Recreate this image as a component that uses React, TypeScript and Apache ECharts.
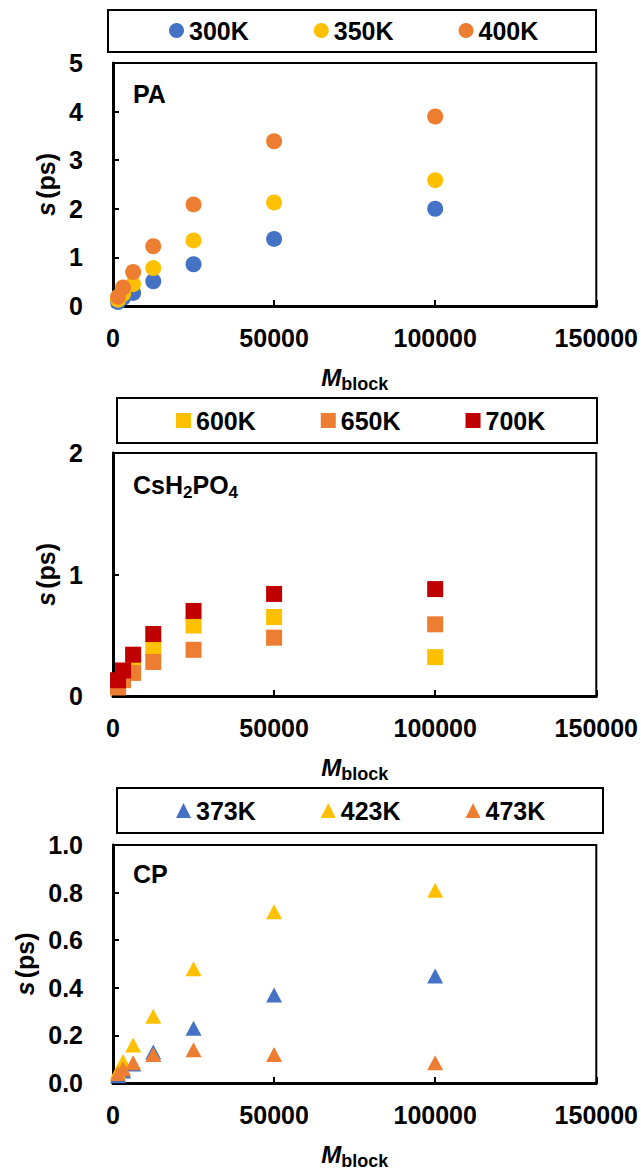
import React, { useEffect, useRef } from "react";
import * as echarts from "echarts";

// Block sizes (x values) shared by all panels
const mBlock = [1563, 3125, 6250, 12500, 25000, 50000, 100000];

// Panel 1: PA
const paNames = ["300K", "350K", "400K"];
const pa300 = [0.08, 0.17, 0.27, 0.51, 0.86, 1.38, 2.0];
const pa350 = [0.13, 0.25, 0.45, 0.78, 1.35, 2.13, 2.59];
const pa400 = [0.19, 0.38, 0.7, 1.23, 2.09, 3.39, 3.9];

// Panel 2: CsH2PO4
const cspNames = ["600K", "650K", "700K"];
const csp600 = [0.1, 0.17, 0.3, 0.4, 0.58, 0.65, 0.32];
const csp650 = [0.07, 0.13, 0.19, 0.28, 0.38, 0.48, 0.59];
const csp700 = [0.13, 0.21, 0.34, 0.51, 0.7, 0.84, 0.88];

// Panel 3: CP
const cpNames = ["373K", "423K", "473K"];
const cp373 = [0.03, 0.05, 0.08, 0.13, 0.23, 0.37, 0.45];
const cp423 = [0.05, 0.09, 0.16, 0.28, 0.48, 0.72, 0.81];
const cp473 = [0.04, 0.06, 0.085, 0.12, 0.14, 0.12, 0.085];

const yMax = [5, 2, 1];
const yInterval = [1, 1, 0.2];
const panelTitles = ["PA", "CsH2PO4", "CP"];

const BLUE = "#4472C4";
const YELLOW = "#FFC000";
const ORANGE = "#ED7D31";
const RED = "#C00000";

const FONT = "Liberation Sans, Arial, sans-serif";

export default function App() {
  const ref = useRef<HTMLDivElement>(null);

  useEffect(() => {
    if (!ref.current) return;
    const chart = echarts.init(ref.current, null, { renderer: "svg" });

    const gridTops = [63, 453, 845];
    const gridHeights = [243, 243, 241];

    const labelStyle = {
      color: "#000",
      fontFamily: FONT,
      fontWeight: "bold" as const,
      fontSize: 25,
    };

    const grids = gridTops.map((t, i) => ({
      left: 113,
      width: 484,
      top: t,
      height: gridHeights[i],
      show: true,
      borderColor: "#000",
      borderWidth: 2,
      backgroundColor: "transparent",
    }));

    const xAxes = gridTops.map((_, i) => ({
      type: "value",
      gridIndex: i,
      min: 0,
      max: 150000,
      interval: 50000,
      splitLine: { show: false },
      axisLine: { show: true, onZero: false, lineStyle: { color: "#000", width: 3 } },
      axisTick: { show: true, inside: true, length: 6, lineStyle: { color: "#000", width: 2 } },
      axisLabel: { ...labelStyle, margin: 19, formatter: (v: number) => String(v) },
      name: "{m|M}{s|block}",
      nameLocation: "middle",
      nameGap: 55,
      nameTextStyle: {
        rich: {
          m: { fontFamily: FONT, fontWeight: "bold", fontStyle: "italic", fontSize: 24, color: "#000" },
          s: { fontFamily: FONT, fontWeight: "bold", fontSize: 18, color: "#000", padding: [14, 0, 0, 0] },
        },
      },
    }));

    const yAxes = gridTops.map((_, i) => ({
      type: "value",
      gridIndex: i,
      min: 0,
      max: yMax[i],
      interval: yInterval[i],
      splitLine: { show: false },
      axisLine: { show: true, onZero: false, lineStyle: { color: "#000", width: 3 } },
      axisTick: { show: true, inside: true, length: 6, lineStyle: { color: "#000", width: 2 } },
      axisLabel: {
        ...labelStyle,
        margin: 30,
        formatter: (v: number) => (i === 2 ? v.toFixed(1) : String(v)),
      },
      name: "{i|s} {n|(ps)}",
      nameLocation: "middle",
      nameGap: 55,
      nameRotate: 90,
      nameTextStyle: {
        rich: {
          i: { fontFamily: FONT, fontWeight: "bold", fontStyle: "italic", fontSize: 25, color: "#000" },
          n: { fontFamily: FONT, fontWeight: "bold", fontSize: 25, color: "#000" },
        },
      },
    }));

    const pts = (ys: number[]) => mBlock.map((x, k) => [x, ys[k]]);

    const mk = (name: string, ys: number[], color: string, idx: number, symbol: string, size: any) => ({
      type: "scatter",
      name,
      xAxisIndex: idx,
      yAxisIndex: idx,
      data: pts(ys),
      symbol,
      symbolSize: size,
      itemStyle: { color, opacity: 1 },
    });

    const series = [
      mk(paNames[0], pa300, BLUE, 0, "circle", 16),
      mk(paNames[1], pa350, YELLOW, 0, "circle", 16),
      mk(paNames[2], pa400, ORANGE, 0, "circle", 16),
      mk(cspNames[0], csp600, YELLOW, 1, "rect", 16),
      mk(cspNames[1], csp650, ORANGE, 1, "rect", 16),
      mk(cspNames[2], csp700, RED, 1, "rect", 16),
      mk(cpNames[0], cp373, BLUE, 2, "triangle", [16, 15]),
      mk(cpNames[1], cp423, YELLOW, 2, "triangle", [16, 15]),
      mk(cpNames[2], cp473, ORANGE, 2, "triangle", [16, 15]),
    ];

    const legendBase = {
      itemGap: 65,
      itemWidth: 15,
      itemHeight: 15,
      padding: 0,
      selectedMode: false,
      textStyle: { ...labelStyle },
    };

    const legends = [
      { ...legendBase, data: paNames, left: 169, top: 18, icon: "circle" },
      { ...legendBase, data: cspNames, left: 176, top: 408, icon: "rect" },
      { ...legendBase, data: cpNames, left: 176, top: 798, icon: "triangle" },
    ];

    const boxes = [
      { x: 108, y: 10, w: 488, h: 42 },
      { x: 117, y: 398, w: 480, h: 45 },
      { x: 117, y: 788, w: 486, h: 45 },
    ];

    const titleY = [94, 485, 874];
    const graphic: any[] = boxes.map((b) => ({
      type: "rect",
      shape: { x: b.x, y: b.y, width: b.w, height: b.h },
      style: { fill: "none", stroke: "#000", lineWidth: 2 },
      z: 10,
    }));
    const titleRich = {
      n: { fontFamily: FONT, fontWeight: "bold", fontSize: 25, fill: "#000" },
      s: { fontFamily: FONT, fontWeight: "bold", fontSize: 17, fill: "#000", padding: [14, 0, 0, 0] },
    };
    const titleTexts = [
      "{n|" + panelTitles[0] + "}",
      "{n|CsH}{s|2}{n|PO}{s|4}",
      "{n|" + panelTitles[2] + "}",
    ];
    titleTexts.forEach((t, i) => {
      graphic.push({
        type: "text",
        x: 133,
        y: titleY[i],
        style: { text: t, rich: titleRich, verticalAlign: "middle", align: "left" },
        z: 10,
      });
    });

    chart.setOption({
      animation: false,
      backgroundColor: "#fff",
      grid: grids,
      xAxis: xAxes,
      yAxis: yAxes,
      legend: legends,
      series,
      graphic,
    });

    return () => chart.dispose();
  }, []);

  return (
    <div
      ref={ref}
      style={{ position: "absolute", left: 0, top: 0, width: 641, height: 1171 }}
    />
  );
}
